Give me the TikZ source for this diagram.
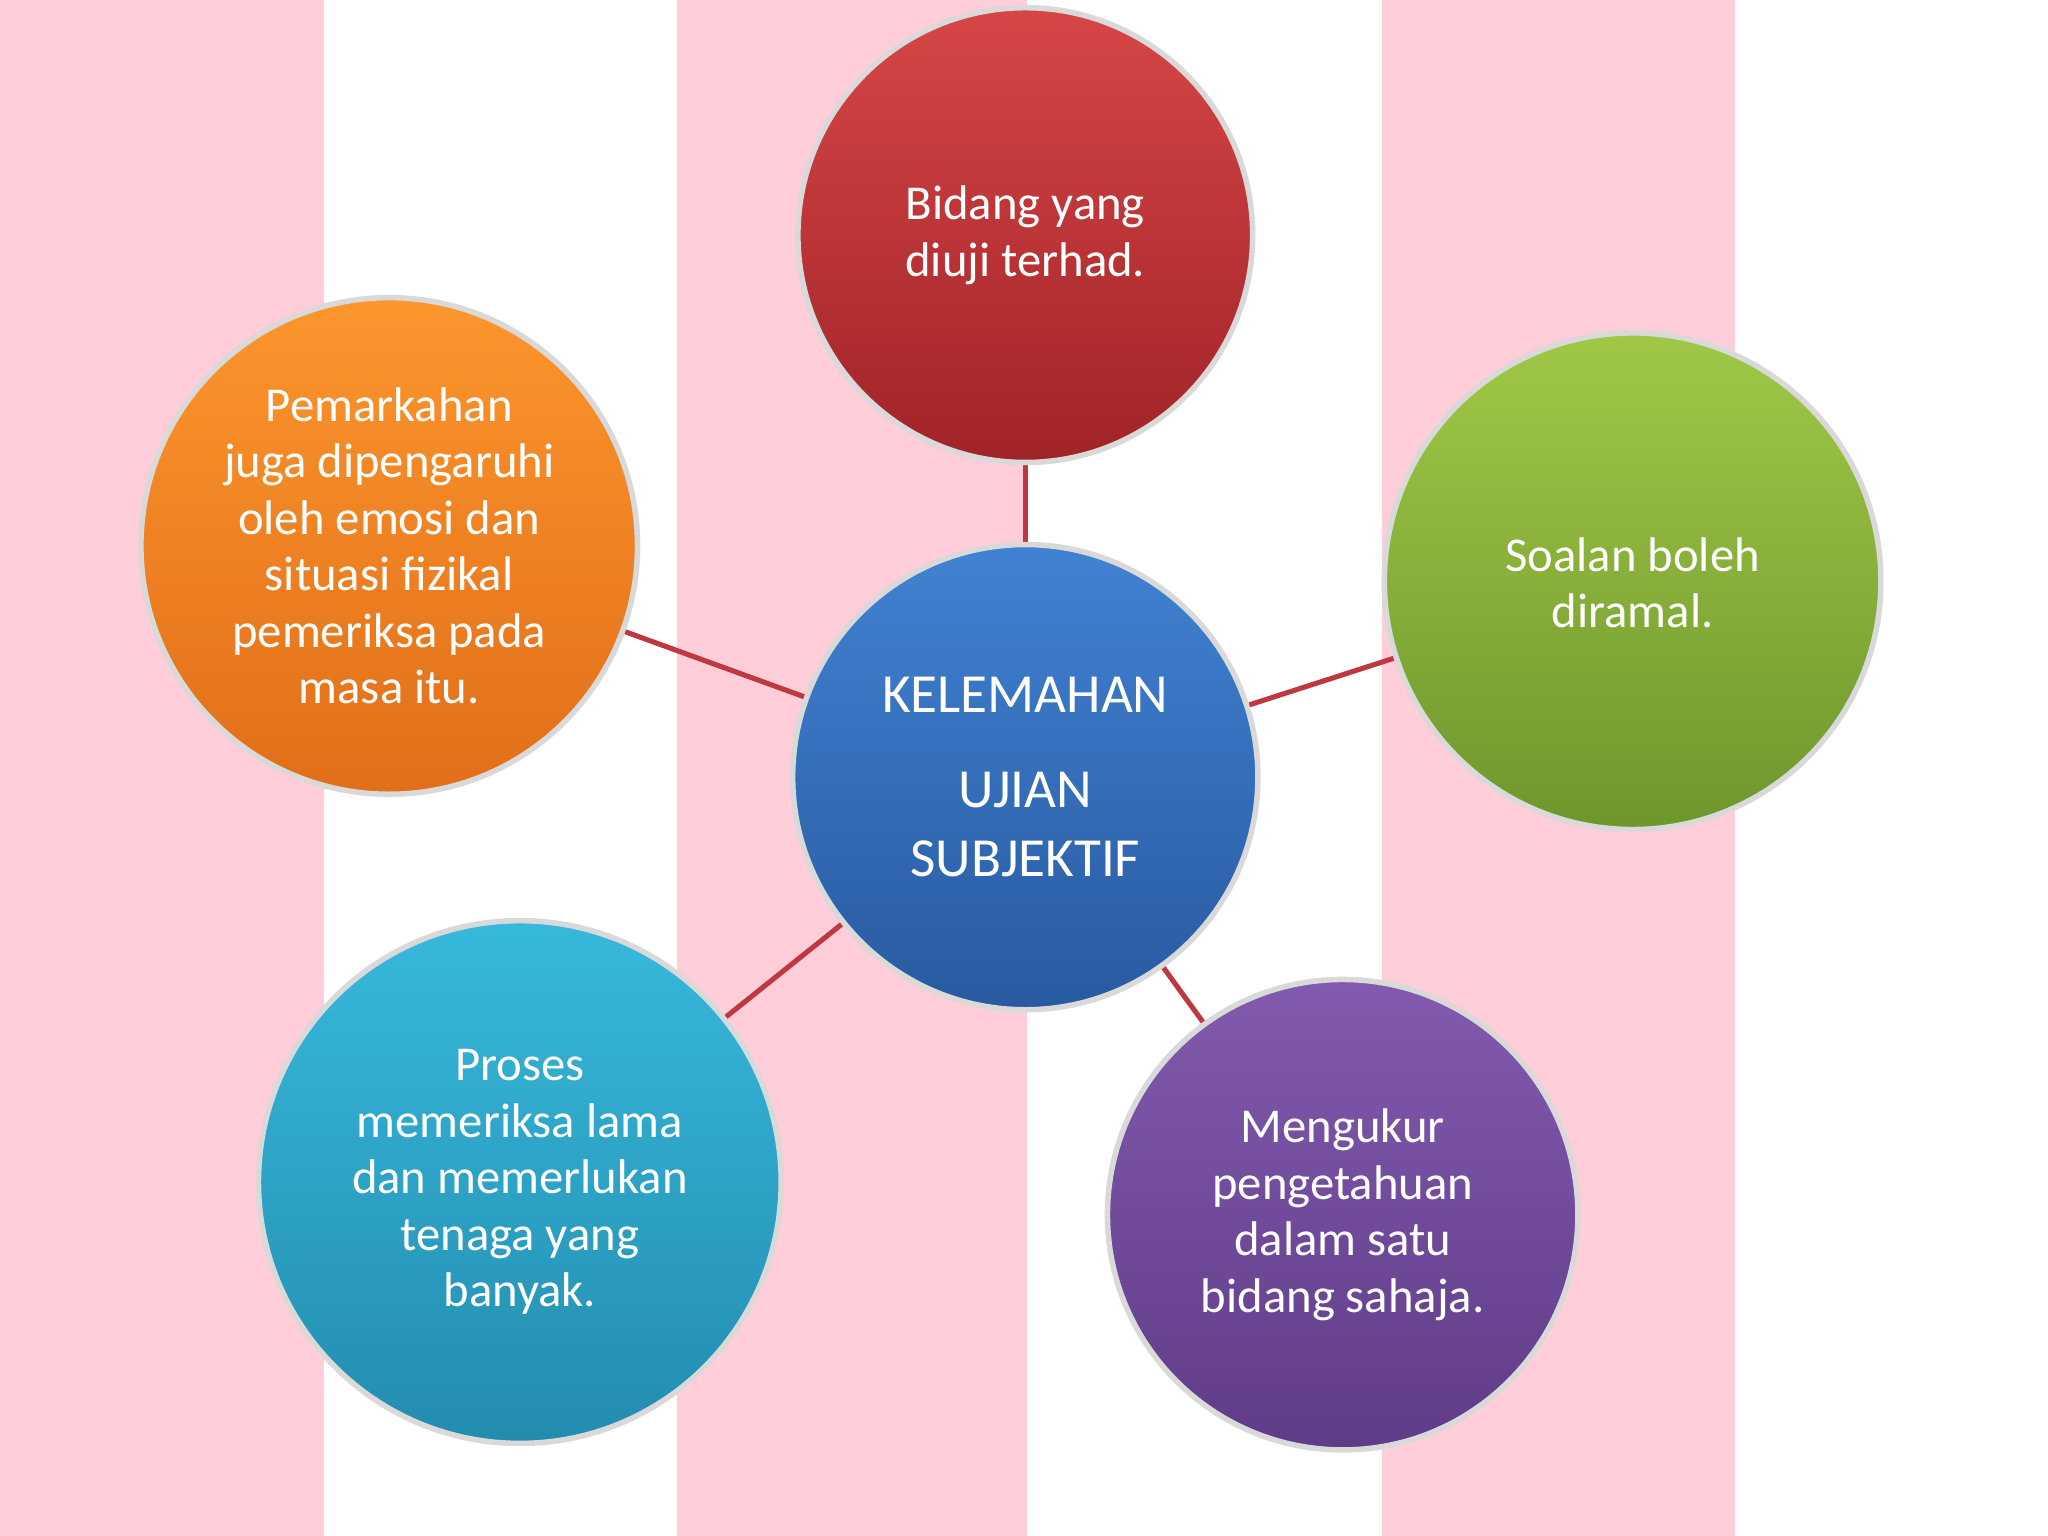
\documentclass[tikz,border=0pt]{standalone}
\usepackage{fontspec}
\setmainfont{Carlito}
\begin{document}
\begin{tikzpicture}[x=0.01cm,y=-0.01cm,
  ball/.style={circle,draw=white!85!black,line width=1.2pt,text=white,align=center,
    font=\fontsize{10.6}{12.3}\selectfont,inner sep=0pt},
  link/.style={draw={rgb,255:red,190;green,55;blue,65},line width=1.1pt}]
\definecolor{pinkbg}{RGB}{255,206,216}
\fill[white] (0,0) rectangle (1568,1176);
\foreach \a/\b in {0/248,518/786,1058/1328}{\fill[pinkbg] (\a,0) rectangle (\b,1176);}
\coordinate (cC) at (785,595);
\draw[link] (785,180) -- (cC);
\draw[link] (298,418) -- (cC);
\draw[link] (1250,445) -- (cC);
\draw[link] (398,905) -- (cC);
\draw[link] (1028,930) -- (cC);
\node[ball,minimum size=3.48cm,top color={rgb,255:red,215;green,70;blue,70},bottom color={rgb,255:red,160;green,35;blue,40}] (red) at (785,180) {Bidang yang\\diuji terhad.};
\node[ball,minimum size=3.8cm,top color={rgb,255:red,252;green,150;blue,45},bottom color={rgb,255:red,225;green,110;blue,25}] (orange) at (298,418) {Pemarkahan\\juga dipengaruhi\\oleh emosi dan\\situasi fizikal\\pemeriksa pada\\masa itu.};
\node[ball,minimum size=3.8cm,top color={rgb,255:red,160;green,200;blue,70},bottom color={rgb,255:red,110;green,150;blue,45}] (green) at (1250,445) {\\[-0.4em]Soalan boleh\\diramal.};
\node[ball,minimum size=3.56cm,top color={rgb,255:red,65;green,130;blue,210},bottom color={rgb,255:red,40;green,90;blue,160},font=\fontsize{12}{15.2}\selectfont] (center) at (cC) {KELEMAHAN\\[0.45em]UJIAN\\SUBJEKTIF};
\node[ball,minimum size=4.0cm,top color={rgb,255:red,55;green,185;blue,220},bottom color={rgb,255:red,35;green,140;blue,175}] (cyan) at (398,905) {Proses\\memeriksa lama\\dan memerlukan\\tenaga yang\\banyak.};
\node[ball,minimum size=3.6cm,top color={rgb,255:red,130;green,90;blue,175},bottom color={rgb,255:red,95;green,60;blue,135}] (purple) at (1028,930) {Mengukur\\pengetahuan\\dalam satu\\bidang sahaja.};
\end{tikzpicture}
\end{document}
